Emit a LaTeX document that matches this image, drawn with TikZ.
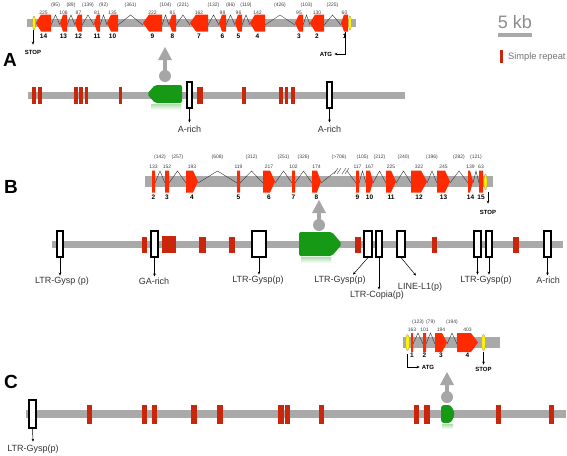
\documentclass[tikz,border=0pt]{standalone}
\usepackage{fontspec}
\setmainfont{Liberation Sans}
\usetikzlibrary{arrows.meta}
\definecolor{exonred}{HTML}{FF2A00}
\definecolor{reprred}{HTML}{C9260C}
\definecolor{cdsgreen}{HTML}{169A16}
\definecolor{bargray}{HTML}{A9A9A9}
\definecolor{pingray}{HTML}{A6A6A6}
\definecolor{codonyellow}{HTML}{FFF200}

% exon arrows: x1, x2, tip depth, centre y (half height in \exh)
\newcommand{\exonleft}[4]{%
  \fill[exonred] (#1,#4) -- (#1+#3,#4-\exh) -- (#2,#4-\exh) -- (#2,#4+\exh) -- (#1+#3,#4+\exh) -- cycle;}
\newcommand{\exonright}[4]{%
  \fill[exonred] (#1,#4-\exh) -- (#2-#3,#4-\exh) -- (#2,#4) -- (#2-#3,#4+\exh) -- (#1,#4+\exh) -- cycle;}
% grey pin above the green exon: x, apex y, circle y
\newcommand{\genepin}[3]{%
  \fill[pingray] (#1-7,#2+13) -- (#1,#2) -- (#1+7,#2+13) -- cycle;
  \fill[pingray] (#1-2,#2+12) rectangle (#1+2,#3);
  \fill[pingray] (#1,#3) circle [radius=6pt];}

\begin{document}
\begin{tikzpicture}[x=1pt, y=-1pt,
  chrom/.style={fill=bargray},
  intron/.style={draw=black!80, line width=0.4pt},
  tebox/.style={draw, line width=1.1pt, fill=white, inner sep=0, minimum height=26pt},
  telabel/.style={font=\fontsize{9}{10}\selectfont, text=black!80, inner sep=1pt},
  exsize/.style={font=\fontsize{5}{6}\selectfont, text=black!75, inner sep=0},
  exnum/.style={font=\bfseries\fontsize{6.5}{7}\selectfont, inner sep=0},
  codon/.style={font=\bfseries\fontsize{6}{7}\selectfont, inner sep=0},
  panel/.style={font=\bfseries\fontsize{19}{20}\selectfont, inner sep=0},
  pointer/.style={-{Stealth[length=3pt,width=2.6pt]}, line width=0.5pt},
  marker/.style={fill=codonyellow, draw=yellow!60!black, line width=0.3pt}
]
\useasboundingbox (0,0) rectangle (567,455);

% ---------------- Panel A ----------------
\node[panel] (pA) at (10,60) {A};
% gene model
\def\exh{8.5}
\fill[chrom] (27,19) rectangle (356,27);
\foreach \a/\b/\l in {51/60/95, 67/75/89, 82/94/139, 100/107/92, 118/143/361, 162/169/104, 176/190/221,
    208/219/132, 226/235/86, 242/250/119, 265/295/426, 303/310/103, 324/341/225}{
  \draw[intron] (\a,25) -- ({(\a+\b)/2},15) -- (\b,25);
  \node[exsize] (Ain\b) at ({(\a+\b)/2},5) {(\l)};
}
\foreach \a/\b/\d/\s/\n in {36/51/5/225/14, 60/67/3/108/13, 75/82/3/87/12, 94/100/3/81/11, 107/118/4/135/10,
    143/162/6/222/9, 169/176/3/81/8, 190/208/6/162/7, 219/226/3/98/6, 235/242/3/96/5, 250/265/5/142/4,
    295/303/4/95/3, 310/324/5/130/2, 341/348/3/60/1}{
  \exonleft{\a}{\b}{\d}{23}
  \node[exsize] (Asz\n) at ({(\a+\b)/2},12.5) {\s};
  \node[exnum] (Anum\n) at ({(\a+\b)/2},36) {\n};
}
\filldraw[marker] (34,23) ellipse [x radius=1.5pt, y radius=7pt];
\filldraw[marker] (350,23) ellipse [x radius=1.5pt, y radius=7pt];
\coordinate (Astopm) at (33,30);
\node[codon] (Astop) at (33,52) {STOP};
\draw[pointer] (Astopm) -- ([yshift=5pt]Astop.north);
\coordinate (Aatgm) at (345,32);
\node[codon] (Aatg) at (326,54) {ATG};
\draw[pointer] (Aatgm) |- ([xshift=2pt]Aatg.east);

% genomic region
\genepin{165}{47}{76}
\fill[chrom] (28,92) rectangle (405,98.5);
\foreach \a/\b in {32/36, 38/42, 74/77.5, 79/83, 85/88, 119/122, 197/202.5, 242/245.5, 279/283, 285/288, 291/294.5}
  \fill[reprred] (\a,87) rectangle (\b,104);
\shade[top color=cdsgreen!35, bottom color=white] (151,104) rectangle (181,110);
\fill[cdsgreen, rounded corners=2pt] (147,94) -- (155,85) -- (182,85) -- (182,103) -- (155,103) -- cycle;
\node[tebox, minimum width=5pt] (Abox1) at (189.5,95) {};
\node[tebox, minimum width=5pt] (Abox2) at (329.5,95) {};
\node[telabel] (Alab1) at (189.5,129) {A-rich};
\node[telabel] (Alab2) at (329.5,129) {A-rich};
\draw[pointer] (Abox1.south) -- ([yshift=2pt]Alab1.north);
\draw[pointer] (Abox2.south) -- ([yshift=2pt]Alab2.north);

% legend
\node[font=\fontsize{18}{20}\selectfont, text=black!45, inner sep=0] (kb) at (515,22) {5 kb};
\fill[bargray] (498,33) rectangle (532,37);
\fill[reprred] (500,50) rectangle (503,63);
\node[font=\fontsize{9.3}{10}\selectfont, text=black!55, anchor=west, inner sep=0] (srep) at (508,57) {Simple repeat};

% ---------------- Panel B ----------------
\node[panel] (pB) at (11,187) {B};
\def\exh{11}
\fill[chrom] (145,176) rectangle (493,187);
\foreach \a/\b/\l in {155/165/142, 169/186/257, 198/237/608, 240/263/312, 275/292/251, 295/312/326,
    359/366/105, 373/386/212, 396/411/240, 427/437/196, 450/468/282, 473/479/121}{
  \draw[intron] (\a,183) -- ({(\a+\b)/2},171) -- (\b,183);
  \node[exsize] (Bin\b) at ({(\a+\b)/2},157) {(\l)};
}
% long intron with break
\draw[intron] (321,183) -- (336,171);
\draw[intron] (334,174) -- (338,168) (337,174) -- (341,168);
\draw[intron] (342,174) -- (346,168) (345,174) -- (349,168);
\draw[intron] (347,171) -- (356,183);
\node[exsize] (Bin356) at (339,157) {(>706)};
\foreach \a/\b/\d/\s/\n in {152/155/0/133/2, 165/169/0/152/3, 186/198/5/193/4, 237/240/0/119/5, 263/275/5/217/6,
    292/295/0/102/7, 312/321/4/174/8, 356/359/0/117/9, 366/373/3/167/10, 386/396/5/225/11,
    411/427/6/322/12, 437/450/5/245/13, 468/473/3/139/14, 479/483/0/63/15}{
  \exonright{\a}{\b}{\d}{181.5}
  \node[exsize] (Bsz\n) at ({(\a+\b)/2},166.5) {\s};
  \node[exnum] (Bnum\n) at ({(\a+\b)/2},197) {\n};
}
\filldraw[marker] (485.5,182) ellipse [x radius=1.5pt, y radius=8pt];
\coordinate (Bstopm) at (488,192);
\node[codon] (Bstop) at (488,212) {STOP};
\draw[pointer] (Bstopm) -- ([yshift=6pt]Bstop.north);

% genomic region
\genepin{319}{200}{225}
\fill[chrom] (52,241) rectangle (563,248);
\foreach \a/\b in {142/147, 199/206, 229/235, 355/361, 432/437, 513/519}
  \fill[reprred] (\a,237) rectangle (\b,253);
\fill[reprred] (162,236) rectangle (176,253);
\shade[top color=cdsgreen!35, bottom color=white] (301,257) rectangle (331,263);
\fill[cdsgreen, rounded corners=2pt] (299,232) -- (332,232) -- (342,244) -- (332,256) -- (299,256) -- cycle;
\node[tebox, minimum width=6pt] (Bbox1) at (60,244) {};
\node[tebox, minimum width=7pt] (Bbox2) at (154.5,244) {};
\node[tebox, minimum width=14pt] (Bbox3) at (259,244) {};
\node[tebox, minimum width=8pt] (Bbox4) at (368,244) {};
\node[tebox, minimum width=6pt] (Bbox5) at (379,244) {};
\node[tebox, minimum width=8pt] (Bbox6) at (401,244) {};
\node[tebox, minimum width=7pt] (Bbox7) at (477.5,244) {};
\node[tebox, minimum width=6pt] (Bbox8) at (489,244) {};
\node[tebox, minimum width=7pt] (Bbox9) at (547.5,244) {};
\node[telabel] (Blab1) at (62,281) {LTR-Gysp (p)};
\node[telabel] (Blab2) at (154,281) {GA-rich};
\node[telabel] (Blab3) at (258,280) {LTR-Gysp(p)};
\node[telabel] (Blab4) at (340,280) {LTR-Gysp(p)};
\node[telabel] (Blab5) at (377,295) {LTR-Copia(p)};
\node[telabel] (Blab6) at (420,287) {LINE-L1(p)};
\node[telabel] (Blab7) at (486,280) {LTR-Gysp(p)};
\node[telabel] (Blab9) at (548,280) {A-rich};
\draw[pointer] (Bbox1.south) -- (Bbox1.south |- Blab1.north);
\draw[pointer] (Bbox2.south) -- (Bbox2.south |- Blab2.north);
\draw[pointer] (Bbox3.south) -- (Bbox3.south |- Blab3.north);
\draw[pointer] (Bbox4.south) -- ([xshift=13pt]Blab4.north);
\draw[pointer] (Bbox5.south) -- (Bbox5.south |- Blab5.north);
\draw[pointer] (Bbox6.south) -- ([xshift=-4pt,yshift=6pt]Blab6.north);
\draw[pointer] (Bbox7.south) -- (Bbox7.south |- Blab7.north);
\draw[pointer] (Bbox8.south) -- (Bbox8.south |- Blab7.north);
\draw[pointer] (Bbox9.south) -- (Bbox9.south |- Blab9.north);

% ---------------- Panel C ----------------
\node[panel] (pC) at (11,382) {C};
\def\exh{9.5}
\fill[chrom] (403,337) rectangle (500,348);
\foreach \a/\b/\l in {413/423/123, 426/435/79, 447/457/194}{
  \draw[intron] (\a,344) -- ({(\a+\b)/2},333) -- (\b,344);
  \node[exsize] (Cin\b) at ({(\a+\b)/2},322) {(\l)};
}
\foreach \a/\b/\d/\s/\n in {411/413/0/163/1, 423/426/0/101/2, 435/447/5/194/3, 457/478/7/403/4}{
  \exonright{\a}{\b}{\d}{342.5}
  \node[exsize] (Csz\n) at ({(\a+\b)/2},330) {\s};
  \node[exnum] (Cnum\n) at ({(\a+\b)/2},355) {\n};
}
\filldraw[marker] (407.5,342.5) ellipse [x radius=2pt, y radius=8pt];
\filldraw[marker] (483.5,342.5) ellipse [x radius=2pt, y radius=8pt];
\coordinate (Catgm) at (407.5,354);
\node[codon] (Catg) at (428,367) {ATG};
\draw[pointer] (Catgm) |- ([xshift=-2pt]Catg.west);
\coordinate (Cstopm) at (483.5,352);
\node[codon] (Cstop) at (483.5,369) {STOP};
\draw[pointer] (Cstopm) -- ([yshift=2pt]Cstop.north);

% genomic region
\genepin{447}{372}{397}
\fill[chrom] (26,410) rectangle (566,418);
\foreach \a/\b in {86.5/91.5, 142/147, 152/157, 191/197, 217/222.5, 278/284, 285/290, 319/324,
    414/419, 424/430, 496/501, 549/554}
  \fill[reprred] (\a,405) rectangle (\b,424);
\shade[top color=cdsgreen!35, bottom color=white] (442,424) rectangle (453,429);
\fill[cdsgreen, rounded corners=3pt] (441,405) -- (451,405) -- (455,414) -- (451,423) -- (441,423) -- cycle;
\node[tebox, minimum width=7pt, minimum height=28pt] (Cbox1) at (32.5,414) {};
\node[telabel] (Clab1) at (33,449) {LTR-Gysp(p)};
\draw[pointer] (Cbox1.south) -- ([yshift=2pt]Clab1.north);
\end{tikzpicture}
\end{document}
